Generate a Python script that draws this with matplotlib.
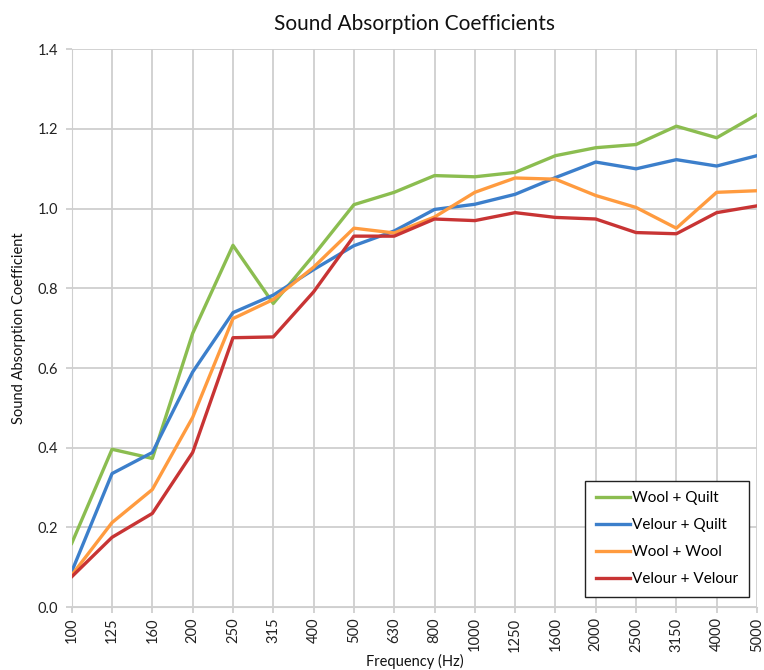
import numpy as np
import matplotlib
matplotlib.use('Agg')
import matplotlib.pyplot as plt

plt.rcParams['font.family'] = ['Lato', 'DejaVu Sans']

# Frequencies (categories)
freqs = ['100', '125', '160', '200', '250', '315', '400', '500', '630', '800',
         '1000', '1250', '1600', '2000', '2500', '3150', '4000', '5000']

# Sound absorption coefficients
wool_quilt = [0.160, 0.396, 0.373, 0.687, 0.908, 0.762, 0.883, 1.010, 1.041, 1.083,
              1.080, 1.091, 1.133, 1.153, 1.161, 1.207, 1.178, 1.236]
velour_quilt = [0.089, 0.335, 0.388, 0.590, 0.739, 0.783, 0.847, 0.907, 0.944, 0.998,
                1.011, 1.036, 1.078, 1.117, 1.100, 1.123, 1.107, 1.133]
wool_wool = [0.080, 0.212, 0.295, 0.476, 0.724, 0.772, 0.853, 0.951, 0.939, 0.979,
             1.041, 1.077, 1.074, 1.033, 1.003, 0.951, 1.041, 1.045]
velour_velour = [0.076, 0.175, 0.235, 0.388, 0.676, 0.678, 0.791, 0.931, 0.931, 0.974,
                 0.970, 0.990, 0.978, 0.974, 0.940, 0.937, 0.990, 1.007]

series = [('Wool + Quilt', wool_quilt, '#8BBD50'),
          ('Velour + Quilt', velour_quilt, '#3C7FCB'),
          ('Wool + Wool', wool_wool, '#FF9B3F'),
          ('Velour + Velour', velour_velour, '#C83434')]

fig = plt.figure(figsize=(7.64, 6.70), dpi=100)
ax = fig.add_axes([0.0939, 0.094, 0.8969, 0.8324])

x = np.arange(len(freqs))
for name, vals, col in series:
    ax.plot(x, vals, color=col, lw=2.4, label=name, zorder=3)

ax.set_xlim(0, len(freqs) - 1)
ax.set_ylim(0, 1.4)
ax.set_xticks(x)
ax.set_xticklabels(freqs, rotation=90, fontsize=10.5)
ax.set_yticks(np.arange(0, 1.41, 0.2))
ax.set_yticklabels(['%.1f' % v for v in np.arange(0, 1.41, 0.2)], fontsize=10.5)

ax.grid(True, color='#cfcfcf', lw=1.3)
ax.set_axisbelow(True)
for s in ax.spines.values():
    s.set_visible(False)
ax.spines['left'].set_visible(True)
ax.spines['left'].set_color('#cfcfcf')
ax.spines['bottom'].set_visible(True)
ax.spines['bottom'].set_color('#cfcfcf')
ax.tick_params(axis='both', colors='#cfcfcf', labelcolor='#222222', length=4, width=1.3)
ax.tick_params(axis='y', pad=6)

ax.set_title('Sound Absorption Coefficients', fontsize=15, pad=14, color='#111111')
ax.set_xlabel('Frequency (Hz)', fontsize=10.5, labelpad=2, color='#111111')
ax.set_ylabel('Sound Absorption Coefficient', fontsize=10.5, labelpad=8, color='#111111')

leg = ax.legend(loc='lower right', bbox_to_anchor=(0.999, 0.004), fontsize=11,
                handlelength=2.2, handletextpad=0.15, labelspacing=0.85,
                borderpad=0.7, fancybox=False, framealpha=1)
leg.get_frame().set_edgecolor('#222222')
leg.get_frame().set_linewidth(1.0)

fig.savefig('out.png', dpi=100)
